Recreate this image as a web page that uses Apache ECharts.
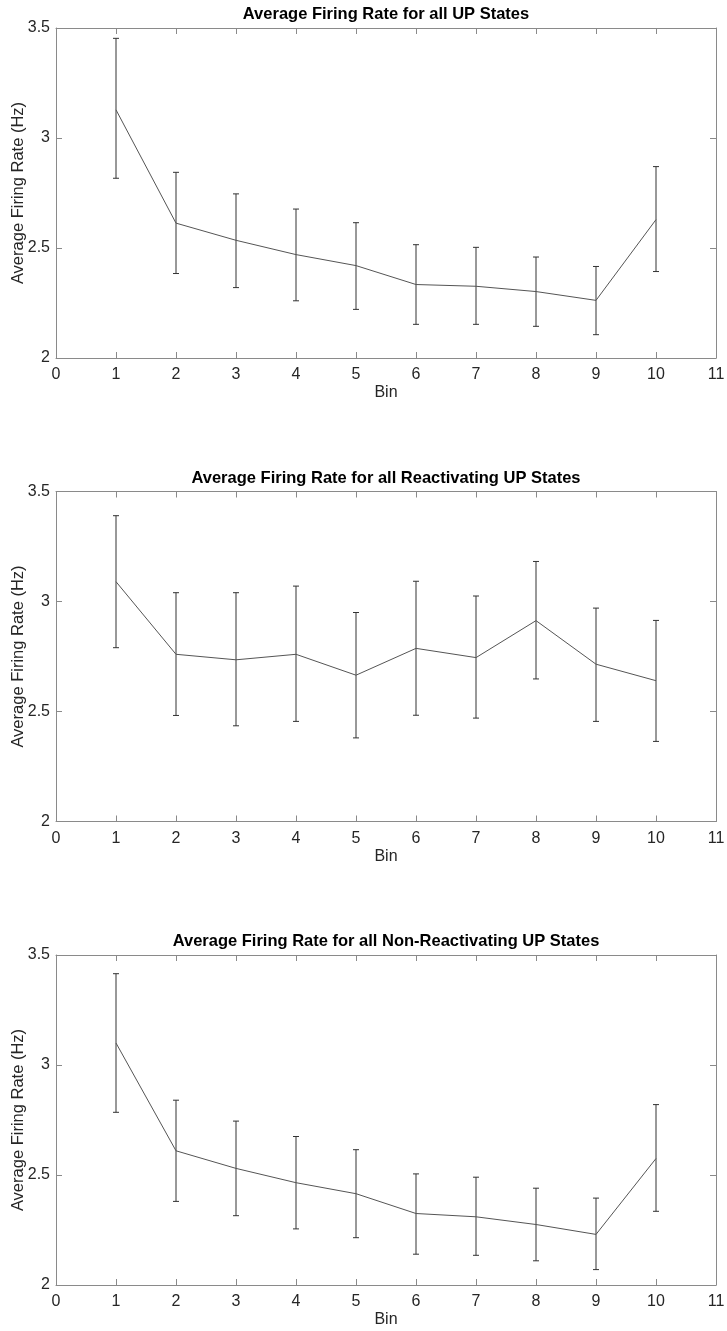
<!DOCTYPE html>
<html><head><meta charset="utf-8">
<script src="https://cdn.jsdelivr.net/npm/echarts@6/dist/echarts.min.js"></script>
<style>html,body{margin:0;padding:0;background:#fff}#c{width:727px;height:1331px}</style>
</head><body><div id="c"></div>
<script>
var bins = [1,2,3,4,5,6,7,8,9,10];
var titles = ['Average Firing Rate for all UP States','Average Firing Rate for all Reactivating UP States','Average Firing Rate for all Non-Reactivating UP States'];
var xTicks = [0,1,2,3,4,5,6,7,8,9,10,11];
var yTicks = [2,2.5,3,3.5];

var allMean  = [3.128,2.613,2.535,2.470,2.420,2.334,2.326,2.302,2.262,2.629];
var allHigh  = [3.453,2.844,2.746,2.677,2.615,2.515,2.503,2.459,2.416,2.870];
var allLow   = [2.817,2.384,2.320,2.260,2.221,2.153,2.153,2.144,2.106,2.393];

var reMean   = [3.090,2.760,2.735,2.760,2.665,2.787,2.745,2.913,2.715,2.640];
var reHigh   = [3.390,3.040,3.040,3.070,2.950,3.092,3.025,3.182,2.970,2.914];
var reLow    = [2.790,2.482,2.435,2.455,2.380,2.483,2.470,2.648,2.455,2.364];

var nonMean  = [3.100,2.610,2.530,2.465,2.415,2.325,2.310,2.275,2.230,2.575];
var nonHigh  = [3.415,2.840,2.745,2.675,2.615,2.505,2.490,2.440,2.395,2.820];
var nonLow   = [2.785,2.380,2.315,2.255,2.215,2.140,2.135,2.110,2.070,2.335];

var panels = [[allMean,allLow,allHigh],[reMean,reLow,reHigh],[nonMean,nonLow,nonHigh]];
var tops = [28, 491.5, 955];
var H = 330;
var FONT = 'Liberation Sans, Arial, sans-serif';
var TXT = '#262626';
var AX = '#8a8a8a';

var option = {animation:false, backgroundColor:'#fff', title:[], grid:[], xAxis:[], yAxis:[], series:[]};
panels.forEach(function(p, i){
  option.grid.push({left:56, right:11, top:tops[i], height:H, containLabel:false, outerBoundsMode:'none'});
  option.title.push({text:titles[i], left:386, textAlign:'center', top:tops[i]-22, padding:0,
    textStyle:{fontFamily:FONT, fontWeight:'bold', fontSize:16.5, color:'#000'}});
  var common = {type:'value', gridIndex:i, splitLine:{show:false},
    axisLine:{show:true, onZero:false, lineStyle:{color:AX, width:1}},
    axisTick:{show:true, inside:true, length:6, lineStyle:{color:AX}}};
  option.xAxis.push(Object.assign({}, common, {position:'bottom', min:xTicks[0], max:xTicks[xTicks.length-1], interval:1,
    name:'Bin', nameLocation:'middle', nameGap:27, nameMoveOverlap:false,
    nameTextStyle:{fontFamily:FONT, fontSize:16, color:TXT},
    axisLabel:{fontFamily:FONT, fontSize:16, color:TXT, margin:9, showMinLabel:true, showMaxLabel:true}}));
  option.xAxis.push(Object.assign({}, common, {position:'top', min:xTicks[0], max:xTicks[xTicks.length-1], interval:1,
    axisLabel:{show:false}}));
  option.yAxis.push(Object.assign({}, common, {position:'left', min:yTicks[0], max:yTicks[yTicks.length-1], interval:0.5,
    name:'Average Firing Rate (Hz)', nameLocation:'middle', nameGap:29, nameMoveOverlap:false,
    nameTextStyle:{fontFamily:FONT, fontSize:16.5, color:TXT},
    axisLabel:{fontFamily:FONT, fontSize:16, color:TXT, margin:6, showMinLabel:true, showMaxLabel:true}}));
  option.yAxis.push(Object.assign({}, common, {position:'right', min:yTicks[0], max:yTicks[yTicks.length-1], interval:0.5,
    axisLabel:{show:false}}));
  var mean=p[0], low=p[1], high=p[2];
  option.series.push({type:'line', xAxisIndex:2*i, yAxisIndex:2*i, symbol:'none',
    lineStyle:{color:'#555', width:1}, data:bins.map(function(b,k){return [b, mean[k]];})});
  option.series.push({type:'custom', xAxisIndex:2*i, yAxisIndex:2*i,
    data:bins.map(function(b,k){return [b, low[k], high[k]];}),
    renderItem:function(params, api){
      var a = api.coord([api.value(0), api.value(1)]);
      var b = api.coord([api.value(0), api.value(2)]);
      var w = 3;
      var st = {stroke:'#333', lineWidth:1};
      return {type:'group', children:[
        {type:'line', shape:{x1:a[0],y1:a[1],x2:b[0],y2:b[1]}, style:st},
        {type:'line', shape:{x1:a[0]-w,y1:a[1],x2:a[0]+w,y2:a[1]}, style:st},
        {type:'line', shape:{x1:b[0]-w,y1:b[1],x2:b[0]+w,y2:b[1]}, style:st}
      ]};
    }});
});
var chart = echarts.init(document.getElementById('c'), null, {renderer:'canvas'});
chart.setOption(option);
</script></body></html>
